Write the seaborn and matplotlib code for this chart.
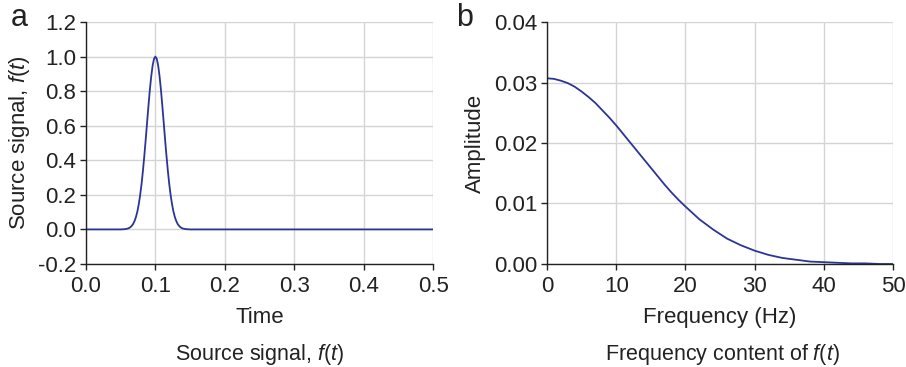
import matplotlib
matplotlib.use("Agg")
import matplotlib.pyplot as plt
import seaborn as sns

sns.set_style("whitegrid")
plt.rcParams["font.family"] = ["Liberation Sans", "DejaVu Sans"]
plt.rcParams["mathtext.fontset"] = "custom"
plt.rcParams["mathtext.it"] = "Liberation Sans:italic"
plt.rcParams["mathtext.rm"] = "Liberation Sans"

# source pulse
time = [0.0, 0.050, 0.056, 0.060, 0.062, 0.064, 0.066, 0.068, 0.070, 0.072, 0.074,
        0.076, 0.078, 0.080, 0.082, 0.084, 0.086, 0.088, 0.090, 0.092, 0.094,
        0.096, 0.098, 0.100, 0.102, 0.104, 0.106, 0.108, 0.110, 0.112, 0.114,
        0.116, 0.118, 0.120, 0.122, 0.124, 0.126, 0.128, 0.130, 0.132, 0.134,
        0.136, 0.138, 0.140, 0.144, 0.150, 0.5]
signal = [0.0, 0.0, 0.0015, 0.0047, 0.0079, 0.013, 0.021, 0.032, 0.049, 0.072, 0.103,
          0.145, 0.197, 0.261, 0.337, 0.424, 0.518, 0.617, 0.715, 0.807, 0.886,
          0.948, 0.987, 1.0, 0.987, 0.948, 0.886, 0.807, 0.715, 0.617, 0.518,
          0.424, 0.337, 0.261, 0.197, 0.145, 0.103, 0.072, 0.049, 0.032, 0.021,
          0.013, 0.0079, 0.0047, 0.0015, 0.0, 0.0]

# amplitude spectrum
freq = [0, 1, 2, 3, 4, 5, 6, 7, 8, 9, 10, 11, 12, 13, 14, 15, 16, 17, 18, 19,
        20, 22, 24, 26, 28, 30, 32, 34, 36, 38, 40, 42, 44, 46, 48, 50]
amplitude = [0.0307, 0.0306, 0.0303, 0.0299, 0.0293, 0.0285, 0.0276, 0.0266,
             0.0254, 0.0242, 0.0229, 0.0215, 0.0201, 0.0187, 0.0173, 0.0159,
             0.0145, 0.0131, 0.0118, 0.0106, 0.0095, 0.0074, 0.0057, 0.0042,
             0.0031, 0.0022, 0.0015, 0.0010, 0.0007, 0.0004, 0.0003, 0.0002,
             0.0001, 0.0001, 0.0, 0.0]

line_color = "#2a3597"
grid_color = "#d4d4d4"
text_color = "#222222"

fig = plt.figure(figsize=(9.06, 3.67), dpi=100)
ax1 = fig.add_axes([0.0949, 0.2807, 0.3831, 0.6593])
ax2 = fig.add_axes([0.6038, 0.2807, 0.3819, 0.6593])

sns.lineplot(x=time, y=signal, ax=ax1, color=line_color, linewidth=1.3)
sns.lineplot(x=freq, y=amplitude, ax=ax2, color=line_color, linewidth=1.3)

ax1.set_xlim(0, 0.5)
ax1.set_ylim(-0.2, 1.2)
ax1.set_xticks([0.0, 0.1, 0.2, 0.3, 0.4, 0.5])
ax1.set_yticks([-0.2, 0.0, 0.2, 0.4, 0.6, 0.8, 1.0, 1.2])
ax1.set_xticklabels(["0.0", "0.1", "0.2", "0.3", "0.4", "0.5"])
ax1.set_yticklabels(["-0.2", "0.0", "0.2", "0.4", "0.6", "0.8", "1.0", "1.2"])
ax1.set_xlabel("Time", fontsize=16, labelpad=7, color=text_color)
ax1.set_ylabel(r"Source signal, $\it{f}$($\it{t}$)", fontsize=16, labelpad=4,
               color=text_color)

ax2.set_xlim(0, 50)
ax2.set_ylim(0, 0.04)
ax2.set_xticks([0, 10, 20, 30, 40, 50])
ax2.set_yticks([0.0, 0.01, 0.02, 0.03, 0.04])
ax2.set_xticklabels(["0", "10", "20", "30", "40", "50"])
ax2.set_yticklabels(["0.00", "0.01", "0.02", "0.03", "0.04"])
ax2.set_xlabel("Frequency (Hz)", fontsize=16, labelpad=7, color=text_color)
ax2.set_ylabel("Amplitude", fontsize=16, labelpad=6, color=text_color)

for ax in (ax1, ax2):
    ax.grid(True, color=grid_color, linewidth=1.0)
    ax.set_axisbelow(True)
    for side in ("top", "right"):
        ax.spines[side].set_visible(False)
    for side in ("left", "bottom"):
        ax.spines[side].set_color(text_color)
        ax.spines[side].set_linewidth(1.0)
    ax.tick_params(axis="both", which="major", labelsize=16, length=4, width=1,
                   color=text_color, labelcolor=text_color, direction="out",
                   bottom=True, left=True, pad=3)
    ax.tick_params(axis="x", pad=5)

fig.text(0.012, 0.95, "a", fontsize=22, color=text_color, va="center", ha="left")
fig.text(0.503, 0.95, "b", fontsize=22, color=text_color, va="center", ha="left")
fig.text(0.287, 0.035, r"Source signal, $\it{f}$($\it{t}$)", fontsize=15.5,
         color=text_color, ha="center", va="center")
fig.text(0.797, 0.035, r"Frequency content of $\it{f}$($\it{t}$)", fontsize=15.5,
         color=text_color, ha="center", va="center")

fig.savefig("out.png", dpi=100)
